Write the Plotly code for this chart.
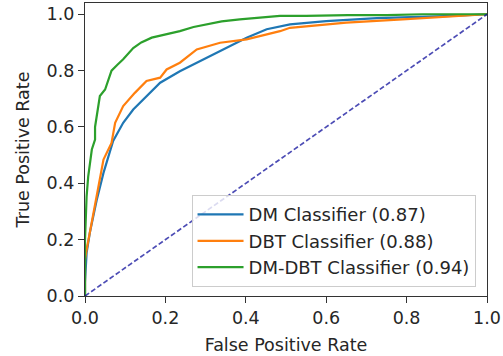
import plotly.graph_objects as go

# ROC curve data
dm_fpr = [0, 0, 0.004, 0.012, 0.029, 0.046, 0.07, 0.095, 0.12, 0.153, 0.187, 0.236, 0.286, 0.344, 0.402, 0.452, 0.51, 0.60, 0.726, 0.915, 1.0]
dm_tpr = [0, 0.05, 0.153, 0.224, 0.34, 0.437, 0.55, 0.615, 0.662, 0.709, 0.757, 0.798, 0.834, 0.875, 0.917, 0.947, 0.964, 0.976, 0.986, 0.994, 1.0]

dbt_fpr = [0, 0, 0.004, 0.02, 0.046, 0.066, 0.075, 0.095, 0.124, 0.153, 0.187, 0.203, 0.236, 0.278, 0.336, 0.402, 0.485, 0.51, 0.65, 0.79, 0.915, 1.0]
dbt_tpr = [0, 0.128, 0.164, 0.282, 0.484, 0.543, 0.615, 0.674, 0.721, 0.763, 0.775, 0.804, 0.828, 0.875, 0.899, 0.911, 0.94, 0.952, 0.97, 0.982, 0.994, 1.0]

dmdbt_fpr = [0, 0, 0.004, 0.008, 0.017, 0.025, 0.025, 0.037, 0.05, 0.066, 0.08, 0.095, 0.12, 0.14, 0.166, 0.2, 0.236, 0.27, 0.30, 0.34, 0.385, 0.485, 0.55, 0.654, 0.75, 0.84, 1.0]
dmdbt_tpr = [0, 0.2, 0.353, 0.425, 0.52, 0.555, 0.60, 0.71, 0.733, 0.80, 0.82, 0.84, 0.88, 0.90, 0.917, 0.929, 0.94, 0.955, 0.964, 0.975, 0.982, 0.994, 0.994, 0.997, 0.997, 1.0, 1.0]

chance_x = [0, 1]
chance_y = [0, 1]

labels = ["DM Classifier (0.87)", "DBT Classifier (0.88)", "DM-DBT Classifier (0.94)"]
tick_vals = [0, 0.2, 0.4, 0.6, 0.8, 1.0]
tick_text = ["0.0", "0.2", "0.4", "0.6", "0.8", "1.0"]

FONT = "DejaVu Sans"
FS = 18
TXT = "#262626"

fig = go.Figure()
fig.add_trace(go.Scatter(x=dm_fpr, y=dm_tpr, mode="lines", name=labels[0],
                         line=dict(color="#1f77b4", width=2.2)))
fig.add_trace(go.Scatter(x=dbt_fpr, y=dbt_tpr, mode="lines", name=labels[1],
                         line=dict(color="#ff7f0e", width=2.2)))
fig.add_trace(go.Scatter(x=dmdbt_fpr, y=dmdbt_tpr, mode="lines", name=labels[2],
                         line=dict(color="#2ca02c", width=2.2)))
fig.add_trace(go.Scatter(x=chance_x, y=chance_y, mode="lines", showlegend=False,
                         line=dict(color="rgba(0,0,150,0.7)", width=1.7, dash="5px,2.5px")))

axis_common = dict(
    showgrid=False, zeroline=False, showline=True, mirror=True, automargin=False,
    linecolor="#333333", linewidth=1.2, ticks="outside", ticklen=6,
    tickcolor="#333333", tickwidth=1.2, tickvals=tick_vals, ticktext=tick_text,
    tickfont=dict(family=FONT, size=17.5, color=TXT),
)

fig.update_layout(
    width=503, height=356,
    margin=dict(l=85, r=16, t=3, b=60),
    paper_bgcolor="white", plot_bgcolor="white",
    font=dict(family=FONT, size=FS, color=TXT),
    xaxis=dict(range=[0, 1], title=dict(text="False Positive Rate", font=dict(size=17.5), standoff=11), **axis_common),
    yaxis=dict(range=[0, 1.04], title=dict(text="True Positive Rate", font=dict(size=17.5), standoff=12), **axis_common),
    legend=dict(x=0.265, y=0.03, xanchor="left", yanchor="bottom",
                bgcolor="rgba(255,255,255,0.8)", bordercolor="#cccccc", borderwidth=1,
                font=dict(family=FONT, size=FS, color=TXT),
                itemwidth=46),
)

fig.write_html("out.html", config={"displayModeBar": False},
               post_script="document.body.style.margin='0';document.body.style.overflow='hidden';")
